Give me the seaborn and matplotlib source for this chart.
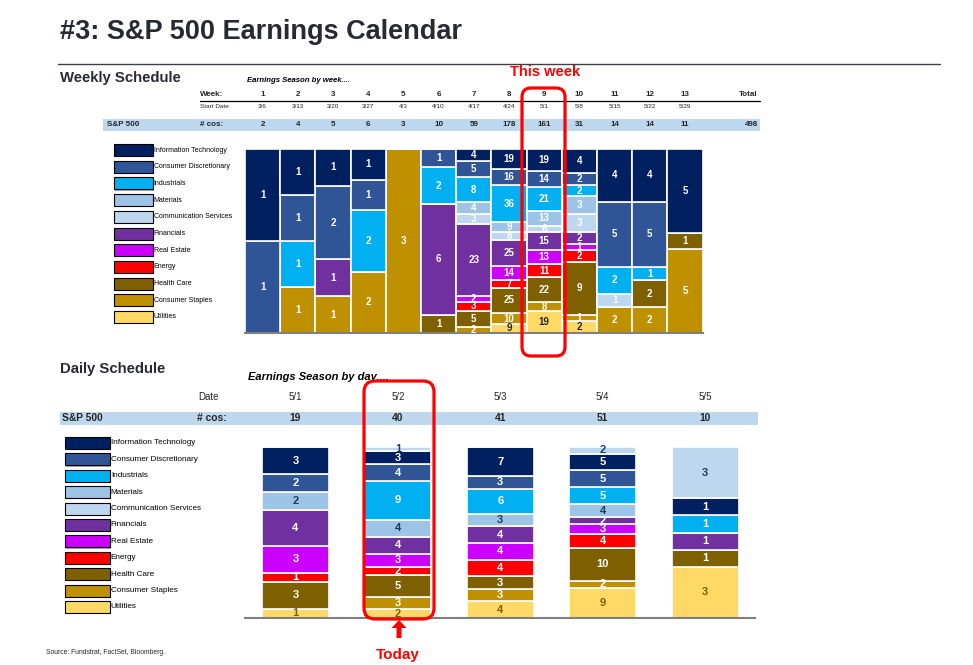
import numpy as np
import pandas as pd
import matplotlib
matplotlib.use("Agg")
import matplotlib.pyplot as plt
import seaborn as sns
from matplotlib import font_manager
from matplotlib.patches import Rectangle, FancyBboxPatch, FancyArrow
from matplotlib.lines import Line2D
from matplotlib.transforms import IdentityTransform, blended_transform_factory

# ---------------- data ----------------
sectors = ["Information Technology", "Consumer Discretionary", "Industrials", "Materials",
           "Communication Services", "Financials", "Real Estate", "Energy", "Health Care",
           "Consumer Staples", "Utilities"]
sector_colors = ["#002060", "#2F5597", "#00B0F0", "#9DC3E6", "#BDD7EE", "#7030A0",
                 "#CC00FF", "#FF0000", "#7F6000", "#BF9000", "#FFD966"]

weeks = [1, 2, 3, 4, 5, 6, 7, 8, 9, 10, 11, 12, 13]
week_start = ["3/6", "3/13", "3/20", "3/27", "4/3", "4/10", "4/17", "4/24",
              "5/1", "5/8", "5/15", "5/22", "5/29"]
wk_info_tech = [1, 1, 1, 1, 0, 0, 4, 19, 19, 4, 4, 4, 5]
wk_cons_disc = [1, 1, 2, 1, 0, 1, 5, 16, 14, 2, 5, 5, 0]
wk_industrials = [0, 1, 0, 2, 0, 2, 8, 36, 21, 2, 2, 1, 0]
wk_materials = [0, 0, 0, 0, 0, 0, 4, 9, 13, 3, 0, 0, 0]
wk_comm_serv = [0, 0, 0, 0, 0, 0, 3, 8, 6, 3, 1, 0, 0]
wk_financials = [0, 0, 1, 0, 0, 6, 23, 25, 15, 2, 0, 0, 0]
wk_real_estate = [0, 0, 0, 0, 0, 0, 2, 14, 13, 1, 0, 0, 0]
wk_energy = [0, 0, 0, 0, 0, 0, 3, 7, 11, 2, 0, 0, 0]
wk_health_care = [0, 0, 0, 0, 0, 1, 5, 25, 22, 9, 0, 2, 1]
wk_cons_staples = [0, 1, 1, 2, 3, 0, 2, 10, 8, 1, 2, 2, 5]
wk_utilities = [0, 0, 0, 0, 0, 0, 0, 9, 19, 2, 0, 0, 0]

days = ["5/1", "5/2", "5/3", "5/4", "5/5"]
day_info_tech = [3, 3, 7, 5, 1]
day_cons_disc = [2, 4, 3, 5, 0]
day_industrials = [0, 9, 6, 5, 1]
day_materials = [2, 4, 3, 4, 0]
day_comm_serv = [0, 1, 0, 2, 3]
day_financials = [4, 4, 4, 2, 1]
day_real_estate = [3, 3, 4, 3, 0]
day_energy = [1, 2, 4, 4, 0]
day_health_care = [3, 5, 3, 10, 1]
day_cons_staples = [0, 3, 3, 2, 0]
day_utilities = [1, 2, 4, 9, 3]

weekly_values = dict(zip(sectors, [wk_info_tech, wk_cons_disc, wk_industrials, wk_materials,
                                   wk_comm_serv, wk_financials, wk_real_estate, wk_energy,
                                   wk_health_care, wk_cons_staples, wk_utilities]))
daily_values = dict(zip(sectors, [day_info_tech, day_cons_disc, day_industrials, day_materials,
                                  day_comm_serv, day_financials, day_real_estate, day_energy,
                                  day_health_care, day_cons_staples, day_utilities]))
palette = dict(zip(sectors, sector_colors))

# stacking order (top -> bottom)
weekly_stack = sectors[:]
daily_stack = ["Communication Services"] + [s for s in sectors if s != "Communication Services"]

wk_df = pd.DataFrame([(w, s, weekly_values[s][i]) for s in weekly_stack for i, w in enumerate(weeks)],
                     columns=["week", "sector", "count"])
day_df = pd.DataFrame([(d, s, daily_values[s][i]) for s in daily_stack for i, d in enumerate(days)],
                      columns=["day", "sector", "count"])
wk_tot = wk_df.groupby("week")["count"].sum().reindex(weeks).tolist()
day_tot = day_df.groupby("day")["count"].sum().reindex(days).tolist()

# ---------------- style ----------------
sns.set_theme(style="white")
names = {f.name for f in font_manager.fontManager.ttflist}
HAS_NARROW = "Liberation Sans Narrow" in names
NARROW = ["Liberation Sans Narrow", "Liberation Sans", "DejaVu Sans"] if HAS_NARROW else ["Liberation Sans", "DejaVu Sans"]
NS = 1.0 if HAS_NARROW else 0.84
plt.rcParams["font.family"] = ["Liberation Sans", "DejaVu Sans"]

W, H = 973, 665
fig = plt.figure(figsize=(W / 100, H / 100), dpi=100)
fig.patch.set_facecolor("white")


def fx(x):
    return x / W


def fy(y):
    return 1 - y / H


DARK = "#262B33"
BAND = "#BDD7EE"
RED = "#FF0000"

# ---------------- titles ----------------
fig.text(fx(60), fy(32), "#3: S&P 500 Earnings Calendar", fontsize=19.5, fontweight="bold",
         color=DARK, ha="left", va="center")
fig.add_artist(Line2D([fx(58), fx(940)], [fy(63.5), fy(63.5)], color="#3A3F48", lw=1.0))
fig.text(fx(60), fy(78), "Weekly Schedule", fontsize=10.7, fontweight="bold", color=DARK,
         ha="left", va="center")
fig.text(fx(247), fy(80.5), "Earnings Season by week....", fontsize=5.6, fontweight="bold",
         style="italic", color="black", ha="left", va="center")
fig.text(fx(60), fy(369), "Daily Schedule", fontsize=10.7, fontweight="bold", color=DARK,
         ha="left", va="center")
fig.text(fx(248), fy(377), "Earnings Season by day....", fontsize=8, fontweight="bold",
         style="italic", color="black", ha="left", va="center")

# ---------------- weekly chart ----------------
ax_w = fig.add_axes([fx(245), fy(333), (702.6 - 245) / W, (333 - 149) / H])
sns.histplot(data=wk_df, x="week", weights="count", hue="sector", hue_order=weekly_stack,
             multiple="fill", discrete=True, shrink=1.0, palette=palette, alpha=1,
             edgecolor="white", linewidth=1.2, legend=False, ax=ax_w)
ax_w.set_xlim(0.5, 13.5)
ax_w.set_ylim(0, 1)
ax_w.set_xticks([])
ax_w.set_yticks([])
ax_w.set_xlabel("")
ax_w.set_ylabel("")
for sp in ["top", "left", "right"]:
    ax_w.spines[sp].set_visible(False)
ax_w.spines["bottom"].set_color("#7F7F7F")
ax_w.spines["bottom"].set_linewidth(1.5)

for i, w in enumerate(weeks):
    cum = 0
    tot = wk_tot[i]
    for s in reversed(weekly_stack):
        v = weekly_values[s][i]
        if v > 0:
            col = "#262626" if s == "Utilities" else "white"
            ax_w.text(w, (cum + v / 2) / tot, str(v), ha="center", va="center",
                      fontsize=7, fontweight="bold", color=col)
        cum += v

# weekly header table
tw = blended_transform_factory(ax_w.transData, fig.transFigure)
fig.add_artist(Rectangle((fx(103), fy(130.5)), (760 - 103) / W, 12 / H, color=BAND, lw=0, zorder=0))
fig.add_artist(Line2D([fx(200), fx(760)], [fy(101), fy(101)], color="black", lw=0.9))
fig.text(fx(200), fy(95), "Week:", fontsize=5.8, fontweight="bold", ha="left", va="center")
fig.text(fx(200), fy(106), "Start Date", fontsize=5.5 * NS, family=NARROW, ha="left", va="center")
fig.text(fx(107), fy(125), "S&P 500", fontsize=5.8, fontweight="bold", ha="left", va="center")
fig.text(fx(200), fy(125), "# cos:", fontsize=5.8, fontweight="bold", ha="left", va="center")
for i, w in enumerate(weeks):
    fig.text(w, fy(95), str(w), transform=tw, fontsize=5.8, fontweight="bold", ha="center", va="center")
    fig.text(w, fy(106), week_start[i], transform=tw, fontsize=5.5 * NS, family=NARROW,
             ha="center", va="center")
    fig.text(w, fy(125), str(wk_tot[i]), transform=tw, fontsize=5.8, fontweight="bold",
             ha="center", va="center")
fig.text(fx(758), fy(95), "Total", fontsize=5.8, fontweight="bold", ha="right", va="center")
fig.text(fx(758), fy(125), str(sum(wk_tot)), fontsize=5.8, fontweight="bold", ha="right", va="center")

# ---------------- daily chart ----------------
ax_d = fig.add_axes([fx(245), fy(618), 510 / W, (618 - 447) / H])
sns.histplot(data=day_df, x="day", weights="count", hue="sector", hue_order=daily_stack,
             multiple="fill", discrete=True, shrink=0.655, palette=palette, alpha=1,
             edgecolor="white", linewidth=1.2, legend=False, ax=ax_d)
ax_d.set_xlim(-0.493, 4.487)
ax_d.set_ylim(0, 1)
ax_d.set_xticks([])
ax_d.set_yticks([])
ax_d.set_xlabel("")
ax_d.set_ylabel("")
for sp in ["top", "left", "right"]:
    ax_d.spines[sp].set_visible(False)
ax_d.spines["bottom"].set_color("#7F7F7F")
ax_d.spines["bottom"].set_linewidth(1.5)

for i, d in enumerate(days):
    cum = 0
    tot = day_tot[i]
    for s in reversed(daily_stack):
        v = daily_values[s][i]
        if v > 0:
            if s in ("Materials", "Communication Services"):
                col = "#1F3864"
            elif s == "Utilities":
                col = "#7F6000"
            else:
                col = "white"
            ax_d.text(i, (cum + v / 2) / tot, str(v), ha="center", va="center",
                      fontsize=8, fontweight="bold", color=col)
        cum += v

td = blended_transform_factory(ax_d.transData, fig.transFigure)
fig.add_artist(Rectangle((fx(60), fy(424.5)), (758 - 60) / W, 12.5 / H, color=BAND, lw=0, zorder=0))
fig.text(fx(198), fy(397), "Date", fontsize=7, ha="left", va="center")
fig.text(fx(62), fy(418), "S&P 500", fontsize=7.4, fontweight="bold", ha="left", va="center")
fig.text(fx(197), fy(418), "# cos:", fontsize=7.4, fontweight="bold", ha="left", va="center")
for i, d in enumerate(days):
    fig.text(i, fy(397), d, transform=td, fontsize=7, ha="center", va="center")
    fig.text(i, fy(418), str(day_tot[i]), transform=td, fontsize=7.4, fontweight="bold",
             ha="center", va="center")

# ---------------- legends ----------------
ident = IdentityTransform()


def draw_legend(x0, y0, dy, bw, bh, fs):
    for k, s in enumerate(sectors):
        yc = y0 + dy * k
        fig.add_artist(Rectangle((x0 + 1.2, H - yc - bh / 2 - 1.2), bw, bh, transform=ident,
                                 facecolor="#A6A6A6", edgecolor="none", zorder=1))
        fig.add_artist(Rectangle((x0, H - yc - bh / 2), bw, bh, transform=ident,
                                 facecolor=palette[s], edgecolor="black", lw=0.8, zorder=2))
        fig.text(fx(x0 + bw + 0.8), fy(yc), s, fontsize=fs * NS, family=NARROW,
                 ha="left", va="center", color="black")


draw_legend(114, 150, 16.7, 39, 12, 6.0)
draw_legend(65, 443, 16.4, 45, 12, 7.0)

# ---------------- red highlights ----------------
fig.add_artist(FancyBboxPatch((522, H - 356), 43, 268, boxstyle="round,pad=0,rounding_size=9",
                              transform=ident, facecolor="none", edgecolor=RED, lw=2.3, zorder=10))
fig.add_artist(FancyBboxPatch((364, H - 619), 70, 238, boxstyle="round,pad=0,rounding_size=11",
                              transform=ident, facecolor="none", edgecolor=RED, lw=2.3, zorder=10))
fig.text(fx(545), fy(72), "This week", fontsize=10.5, fontweight="bold", color=RED,
         ha="center", va="center")
fig.add_artist(FancyArrow(399, H - 638, 0, 18, width=5, head_width=15, head_length=8,
                          length_includes_head=True, transform=ident, color=RED, lw=0, zorder=10))
fig.text(fx(398), fy(655), "Today", fontsize=11, fontweight="bold", color=RED,
         ha="center", va="center")

fig.text(fx(46), fy(653), "Source: Fundstrat, FactSet, Bloomberg.", fontsize=5.8 * NS, family=NARROW,
         ha="left", va="center")

fig.savefig("out.png", dpi=100, facecolor="white")
